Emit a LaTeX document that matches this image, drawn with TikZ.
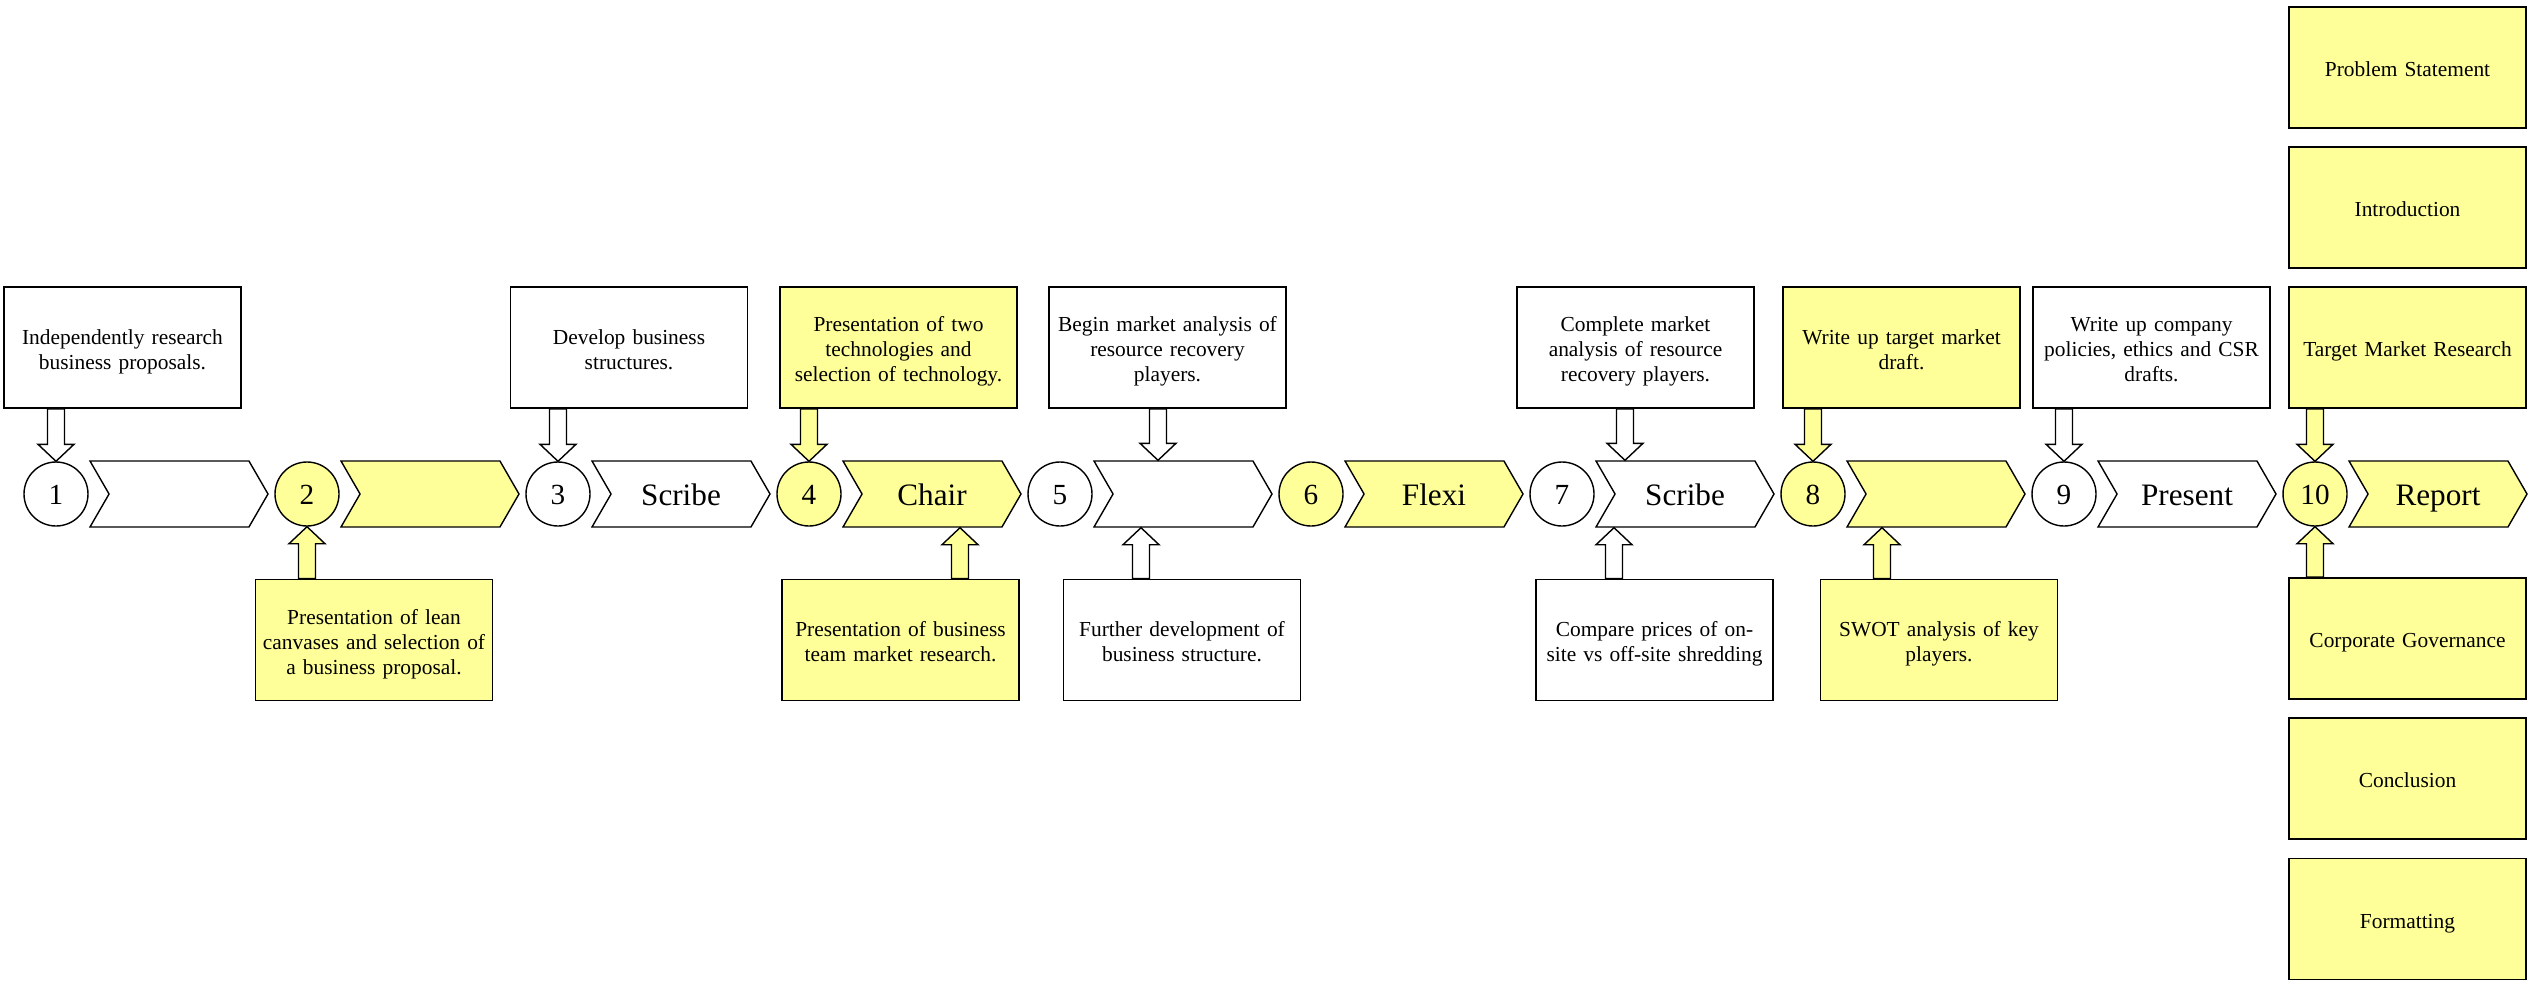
\documentclass[tikz,border=0pt]{standalone}
\usepackage{fontspec}
\setmainfont{Liberation Serif}
\usetikzlibrary{shapes.symbols,calc}

\definecolor{paleyellow}{HTML}{FFFF99}

\tikzset{
	note/.style={draw, fill=white, line width=0.9pt, minimum width=118.5pt, minimum height=60.5pt, inner sep=0pt, text width=116pt, align=center, font=\fontsize{10.7}{12.5}\selectfont,
		execute at begin node={\rule{0pt}{12.8pt}}, execute at end node={\rule[-3.5pt]{0pt}{3.5pt}}},
	stage/.style={draw, circle, fill=white, line width=0.7pt, minimum size=32pt, inner sep=0pt, text height=10pt, text depth=0pt, font=\fontsize{14.6}{16}\selectfont},
	role/.style={draw, signal, signal to=east, signal from=west, signal pointer angle=120, fill=white, line width=0.7pt, minimum width=89pt, minimum height=33pt, inner sep=0pt, text height=11pt, text depth=0pt, font=\fontsize{15.6}{17}\selectfont},
	marked/.style={fill=paleyellow},
	blockline/.style={line width=0.7pt, line join=miter},
}

\newcommand{\blockarrow}[3]{%
	\draw [blockline, fill=#3] let \p1=(#1), \p2=(#2), \n1={ifthenelse(\y2<\y1,1,-1)} in
		(\x2-4.25pt, \y1) -- (\x2-4.25pt, \y2+\n1*8.5pt) -- (\x2-9pt, \y2+\n1*8.5pt) -- (\x2, \y2)
		-- (\x2+9pt, \y2+\n1*8.5pt) -- (\x2+4.25pt, \y2+\n1*8.5pt) -- (\x2+4.25pt, \y1) -- cycle;}

\begin{document}
\begin{tikzpicture}[x=0.5pt, y=-0.5pt]
	\useasboundingbox (0, 0) rectangle (2533, 985);

	\node [stage] (c1) at (56, 494) {1};
	\node [stage, marked] (c2) at (307, 494) {2};
	\node [stage] (c3) at (558, 494) {3};
	\node [stage, marked] (c4) at (809, 494) {4};
	\node [stage] (c5) at (1060, 494) {5};
	\node [stage, marked] (c6) at (1311, 494) {6};
	\node [stage] (c7) at (1562, 494) {7};
	\node [stage, marked] (c8) at (1813, 494) {8};
	\node [stage] (c9) at (2064, 494) {9};
	\node [stage, marked] (c10) at (2315, 494) {10};

	\node [role] (s1) at (179, 494) {};
	\node [role, marked] (s2) at (430, 494) {};
	\node [role] (s3) at (681, 494) {Scribe};
	\node [role, marked] (s4) at (932, 494) {Chair};
	\node [role] (s5) at (1183, 494) {};
	\node [role, marked] (s6) at (1434, 494) {Flexi};
	\node [role] (s7) at (1685, 494) {Scribe};
	\node [role, marked] (s8) at (1936, 494) {};
	\node [role] (s9) at (2187, 494) {Present};
	\node [role, marked] (s10) at (2438, 494) {Report};

	\node [note] (t1) at (122.5, 347.5) {Independently research\\business proposals.};
	\node [note] (t3) at (629, 347.5) {Develop business\\structures.};
	\node [note, marked] (t4) at (898.5, 347.5) {Presentation of two\\technologies and\\selection of technology.};
	\node [note] (t5) at (1167.5, 347.5) {Begin market analysis of\\resource recovery\\players.};
	\node [note] (t7) at (1635.5, 347.5) {Complete market\\analysis of resource\\recovery players.};
	\node [note, marked] (t8) at (1901.5, 347.5) {Write up target market\\draft.};
	\node [note] (t9) at (2151.5, 347.5) {Write up company\\policies, ethics and CSR\\drafts.};

	\node [note, marked] (b2) at (374, 640) {Presentation of lean\\canvases and selection of\\a business proposal.};
	\node [note, marked] (b4) at (900.5, 640) {Presentation of business\\team market research.};
	\node [note] (b5) at (1182, 640) {Further development of\\business structure.};
	\node [note] (b7) at (1654.5, 640) {Compare prices of on-\\site vs off-site shredding};
	\node [note, marked] (b8) at (1939, 640) {SWOT analysis of key\\players.};

	\node [note, marked] (ps) at (2407.5, 67.5) {Problem Statement};
	\node [note, marked] (intro) at (2407.5, 207.5) {Introduction};
	\node [note, marked] (tmr) at (2407.5, 347.5) {Target Market Research};
	\node [note, marked] (cg) at (2407.5, 638.5) {Corporate Governance};
	\node [note, marked] (concl) at (2407.5, 778.5) {Conclusion};
	\node [note, marked] (fmt) at (2407.5, 919) {Formatting};

	\blockarrow{t1.south}{c1.north}{white}
	\blockarrow{b2.north}{c2.south}{paleyellow}
	\blockarrow{t3.south}{c3.north}{white}
	\blockarrow{t4.south}{c4.north}{paleyellow}
	\blockarrow{b4.north}{[xshift=14pt]s4.south}{paleyellow}
	\blockarrow{t5.south}{[xshift=-12.5pt]s5.north}{white}
	\blockarrow{b5.north}{[xshift=-21pt]s5.south}{white}
	\blockarrow{t7.south}{[xshift=-30pt]s7.north}{white}
	\blockarrow{b7.north}{[xshift=-35.5pt]s7.south}{white}
	\blockarrow{t8.south}{c8.north}{paleyellow}
	\blockarrow{b8.north}{[xshift=-27pt]s8.south}{paleyellow}
	\blockarrow{t9.south}{c9.north}{white}
	\blockarrow{tmr.south}{c10.north}{paleyellow}
	\blockarrow{cg.north}{c10.south}{paleyellow}
\end{tikzpicture}
\end{document}
